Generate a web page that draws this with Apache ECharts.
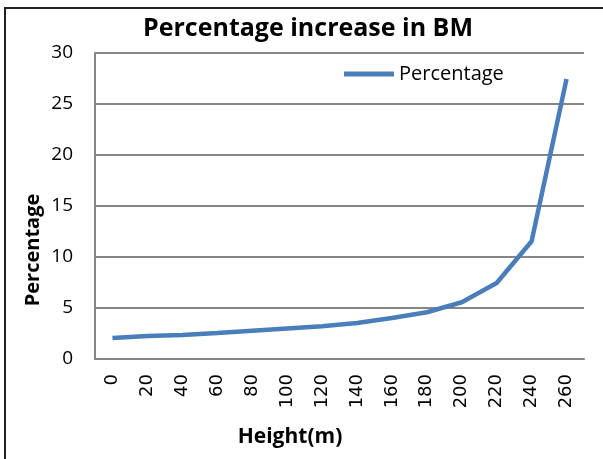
<!DOCTYPE html>
<html><head><meta charset="utf-8">
<script src="https://cdn.jsdelivr.net/npm/echarts@6/dist/echarts.min.js"></script>
<style>html,body{margin:0;padding:0;background:#fff}#c{width:603px;height:459px}</style>
</head><body><div id="c"></div>
<script>
var heights = ['0','20','40','60','80','100','120','140','160','180','200','220','240','260'];
var percentage = [2.05, 2.25, 2.35, 2.55, 2.78, 3.0, 3.2, 3.53, 4.02, 4.58, 5.56, 7.45, 11.54, 27.45];
var yTicks = {min: 0, max: 30, interval: 5};

var chart = echarts.init(document.getElementById('c'));
chart.setOption({
  animation: false,
  backgroundColor: '#fff',
  title: {
    text: 'Percentage increase in BM', left: 143, top: 16, padding: 0,
    textStyle: {fontFamily: 'Open Sans', fontWeight: 'bold', fontSize: 25, color: '#000'}
  },
  legend: {
    data: ['Percentage'], left: 344, top: 64, padding: 0,
    itemWidth: 50, itemHeight: 5, itemGap: 2,
    icon: 'rect',
    textStyle: {fontFamily: 'Open Sans', fontSize: 20, color: '#000', padding: [0,0,0,0]}
  },
  grid: {left: 95, right: 19, top: 53, bottom: 100, containLabel: false},
  xAxis: {
    type: 'category', data: heights, boundaryGap: true,
    axisLine: {lineStyle: {color: '#868686', width: 2}},
    axisTick: {show: false},
    axisLabel: {rotate: 90, margin: 15, fontFamily: 'DejaVu Sans', fontSize: 18, color: '#000', interval: 0}
  },
  yAxis: {
    type: 'value', min: yTicks.min, max: yTicks.max, interval: yTicks.interval,
    axisLine: {show: true, lineStyle: {color: '#868686', width: 2}},
    axisTick: {show: false},
    splitLine: {lineStyle: {color: '#868686', width: 2}},
    axisLabel: {margin: 22, fontFamily: 'Open Sans', fontSize: 19, color: '#000'}
  },
  graphic: [
    {type: 'rect', shape: {x: 5, y: 8, width: 700, height: 600}, style: {fill: 'none', stroke: '#222', lineWidth: 2}, silent: true},
    {type: 'text', x: 33, y: 250, rotation: Math.PI/2,
     style: {text: 'Percentage', fontFamily: 'Open Sans', fontWeight: 'bold', fontSize: 20, fill: '#000', align: 'center', verticalAlign: 'middle'}},
    {type: 'text', x: 290, y: 437,
     style: {text: 'Height(m)', fontFamily: 'Open Sans', fontWeight: 'bold', fontSize: 21, fill: '#000', align: 'center', verticalAlign: 'middle'}}
  ],
  series: [{
    name: 'Percentage', type: 'line', data: percentage,
    symbol: 'none', smooth: false,
    lineStyle: {color: '#4a7ebb', width: 4.5},
    itemStyle: {color: '#4a7ebb'}
  }]
});
</script></body></html>
